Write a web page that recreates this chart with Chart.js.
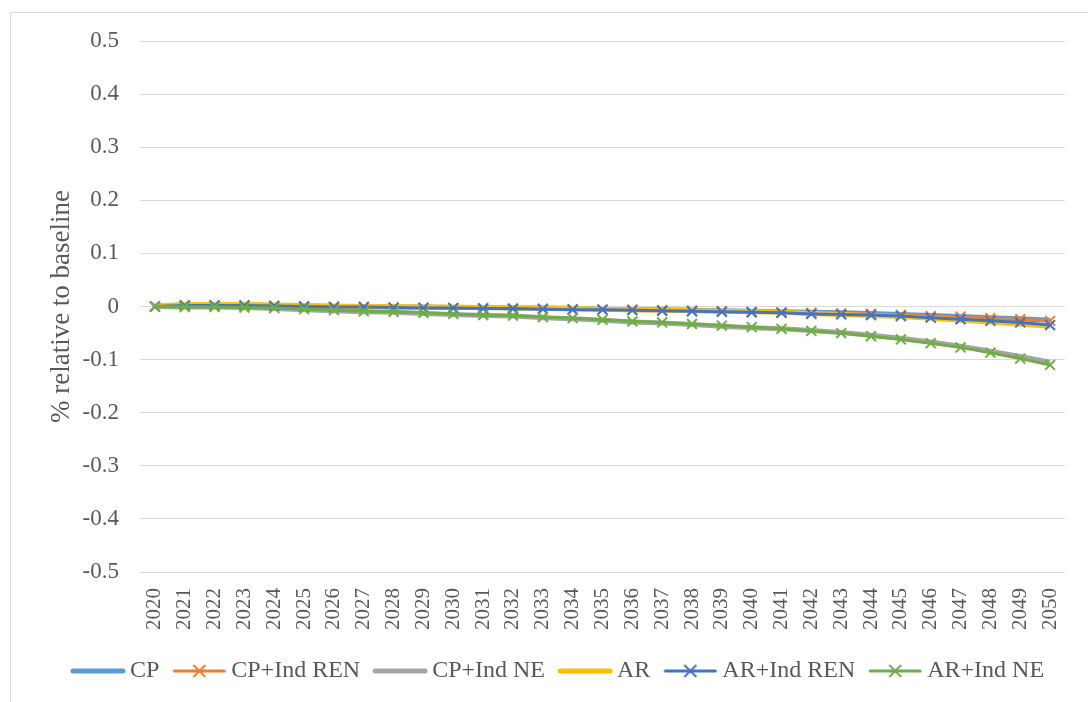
<!DOCTYPE html>
<html>
<head>
<meta charset="utf-8">
<script src="https://cdn.jsdelivr.net/npm/chart.js@4.4.1/dist/chart.umd.min.js"></script>
<style>
    html, body { margin: 0; padding: 0; background: #fff; overflow: hidden; }
    #frame {
        position: absolute; left: 10px; top: 12px;
        width: 1100px; height: 700px;
        border: 1px solid #d9d9d9;
    }
    canvas { display: block; }
</style>
</head>
<body>
<div id="frame"><canvas id="chart" width="1100" height="700"></canvas></div>
<script>
// % change relative to baseline, 2020-2050

const YEARS = [
    '2020', '2021', '2022', '2023', '2024', '2025', '2026', '2027', '2028', '2029',
    '2030', '2031', '2032', '2033', '2034', '2035', '2036', '2037', '2038', '2039',
    '2040', '2041', '2042', '2043', '2044', '2045', '2046', '2047', '2048', '2049', '2050',
];

const CP = [
    0.001, 0.003, 0.003, 0.003, 0.002, 0.001, 0.000, 0.000, -0.001, -0.001,
    -0.002, -0.002, -0.003, -0.003, -0.004, -0.005, -0.006, -0.006, -0.007, -0.008,
    -0.009, -0.010, -0.011, -0.012, -0.013, -0.015, -0.017, -0.019, -0.021, -0.023, -0.026,
];
const CP_IND_REN = [
    0.000, 0.002, 0.002, 0.002, 0.001, 0.000, -0.001, -0.001, -0.002, -0.002,
    -0.003, -0.003, -0.004, -0.004, -0.005, -0.006, -0.006, -0.007, -0.008, -0.009,
    -0.010, -0.011, -0.012, -0.013, -0.014, -0.016, -0.018, -0.019, -0.022, -0.024, -0.027,
];
const CP_IND_NE = [
    0.000, -0.001, -0.001, -0.002, -0.004, -0.006, -0.008, -0.010, -0.011, -0.013,
    -0.015, -0.017, -0.018, -0.021, -0.023, -0.026, -0.029, -0.031, -0.034, -0.037,
    -0.040, -0.042, -0.045, -0.049, -0.054, -0.060, -0.067, -0.075, -0.084, -0.094, -0.105,
];
const AR = [
    0.001, 0.004, 0.004, 0.004, 0.003, 0.002, 0.001, 0.000, 0.000, -0.001,
    -0.001, -0.002, -0.003, -0.003, -0.004, -0.005, -0.006, -0.007, -0.008, -0.009,
    -0.010, -0.011, -0.013, -0.015, -0.017, -0.019, -0.022, -0.026, -0.029, -0.033, -0.037,
];
const AR_IND_REN = [
    0.000, 0.002, 0.002, 0.002, 0.001, 0.000, -0.001, -0.001, -0.002, -0.003,
    -0.003, -0.004, -0.004, -0.005, -0.006, -0.006, -0.007, -0.008, -0.009, -0.010,
    -0.011, -0.012, -0.014, -0.015, -0.016, -0.018, -0.021, -0.024, -0.027, -0.030, -0.035,
];
const AR_IND_NE = [
    0.000, -0.001, -0.001, -0.002, -0.003, -0.005, -0.007, -0.009, -0.010, -0.012,
    -0.014, -0.016, -0.017, -0.020, -0.022, -0.025, -0.028, -0.030, -0.033, -0.036,
    -0.039, -0.042, -0.046, -0.050, -0.056, -0.062, -0.069, -0.077, -0.087, -0.098, -0.110,
];

const SERIES = [
    { label: 'CP',          data: CP,          color: '#5b9bd5', marker: false },
    { label: 'CP+Ind REN',  data: CP_IND_REN,  color: '#ed7d31', marker: true },
    { label: 'CP+Ind NE',   data: CP_IND_NE,   color: '#a5a5a5', marker: false },
    { label: 'AR',          data: AR,          color: '#ffc000', marker: false },
    { label: 'AR+Ind REN',  data: AR_IND_REN,  color: '#4472c4', marker: true },
    { label: 'AR+Ind NE',   data: AR_IND_NE,   color: '#70ad47', marker: true },
];

const FONT = 'Liberation Serif';
const TEXT = '#595959';
const GRID = '#d9d9d9';

// --- Legend icons (line, optionally with an x marker) ---

function legendIcon(s) {
    const c = document.createElement('canvas');
    c.width = 56;
    c.height = 16;
    const g = c.getContext('2d');
    g.strokeStyle = s.color;
    g.lineCap = 'round';
    g.lineWidth = s.marker ? 3 : 5;
    g.beginPath();
    g.moveTo(3, 8);
    g.lineTo(53, 8);
    g.stroke();
    if (s.marker) {
        g.lineWidth = 2;
        g.lineCap = 'butt';
        g.beginPath();
        g.moveTo(22, 2); g.lineTo(34, 14);
        g.moveTo(34, 2); g.lineTo(22, 14);
        g.stroke();
    }
    return c;
}

const icons = SERIES.map(legendIcon);

const datasets = SERIES.map((s, i) => ({
    label: s.label,
    data: s.data,
    yAxisID: 'y',
    borderColor: s.color,
    backgroundColor: s.color,
    borderWidth: s.marker ? 3 : 5,
    pointStyle: s.marker ? 'crossRot' : false,
    pointRadius: s.marker ? 7 : 0,
    pointBorderWidth: 2,
    pointBorderColor: s.color,
    tension: 0,
    fill: false,
    order: SERIES.length - 1 - i,
}));

new Chart(document.getElementById('chart'), {
    type: 'line',
    data: { labels: YEARS, datasets },
    options: {
        responsive: false,
        animation: false,
        devicePixelRatio: 1,
        layout: { padding: { left: 0, right: 0, top: 28, bottom: 20 } },
        plugins: {
            tooltip: { enabled: false },
            legend: {
                position: 'bottom',
                labels: {
                    usePointStyle: true,
                    pointStyleWidth: 40,
                    padding: 20,
                    color: TEXT,
                    font: { family: FONT, size: 24 },
                    sort: (a, b) => a.datasetIndex - b.datasetIndex,
                    generateLabels: (chart) => {
                        const items = Chart.defaults.plugins.legend.labels.generateLabels(chart);
                        items.forEach(it => { it.pointStyle = icons[it.datasetIndex]; });
                        return items;
                    },
                },
            },
        },
        scales: {
            x: {
                offset: true,
                grid: { display: false },
                border: { display: false },
                ticks: {
                    autoSkip: false,
                    minRotation: 90,
                    maxRotation: 90,
                    padding: 8,
                    color: TEXT,
                    font: { family: FONT, size: 21 },
                },
                afterFit: (scale) => { scale.height = 67; },
            },
            y: {
                min: -0.5,
                max: 0.5,
                border: { display: false },
                grid: { color: GRID, lineWidth: 1, drawTicks: true, tickLength: 21, tickColor: 'rgba(0,0,0,0)' },
                ticks: {
                    stepSize: 0.1,
                    padding: 0,
                    color: TEXT,
                    font: { family: FONT, size: 23 },
                    callback: (v) => String(parseFloat(Number(v).toFixed(1))),
                },
                title: {
                    display: true,
                    text: '% relative to baseline',
                    color: TEXT,
                    font: { family: FONT, size: 27 },
                    padding: { top: 35, bottom: 0 },
                },
                afterFit: (scale) => { scale.width = 129; },
            },
            // empty right-hand axis, only reserves the space right of the plot
            yRight: {
                type: 'linear',
                position: 'right',
                grid: { display: false },
                border: { display: false },
                ticks: { display: false },
                afterFit: (scale) => { scale.width = 46; },
            },
        },
    },
});
</script>
</body>
</html>
